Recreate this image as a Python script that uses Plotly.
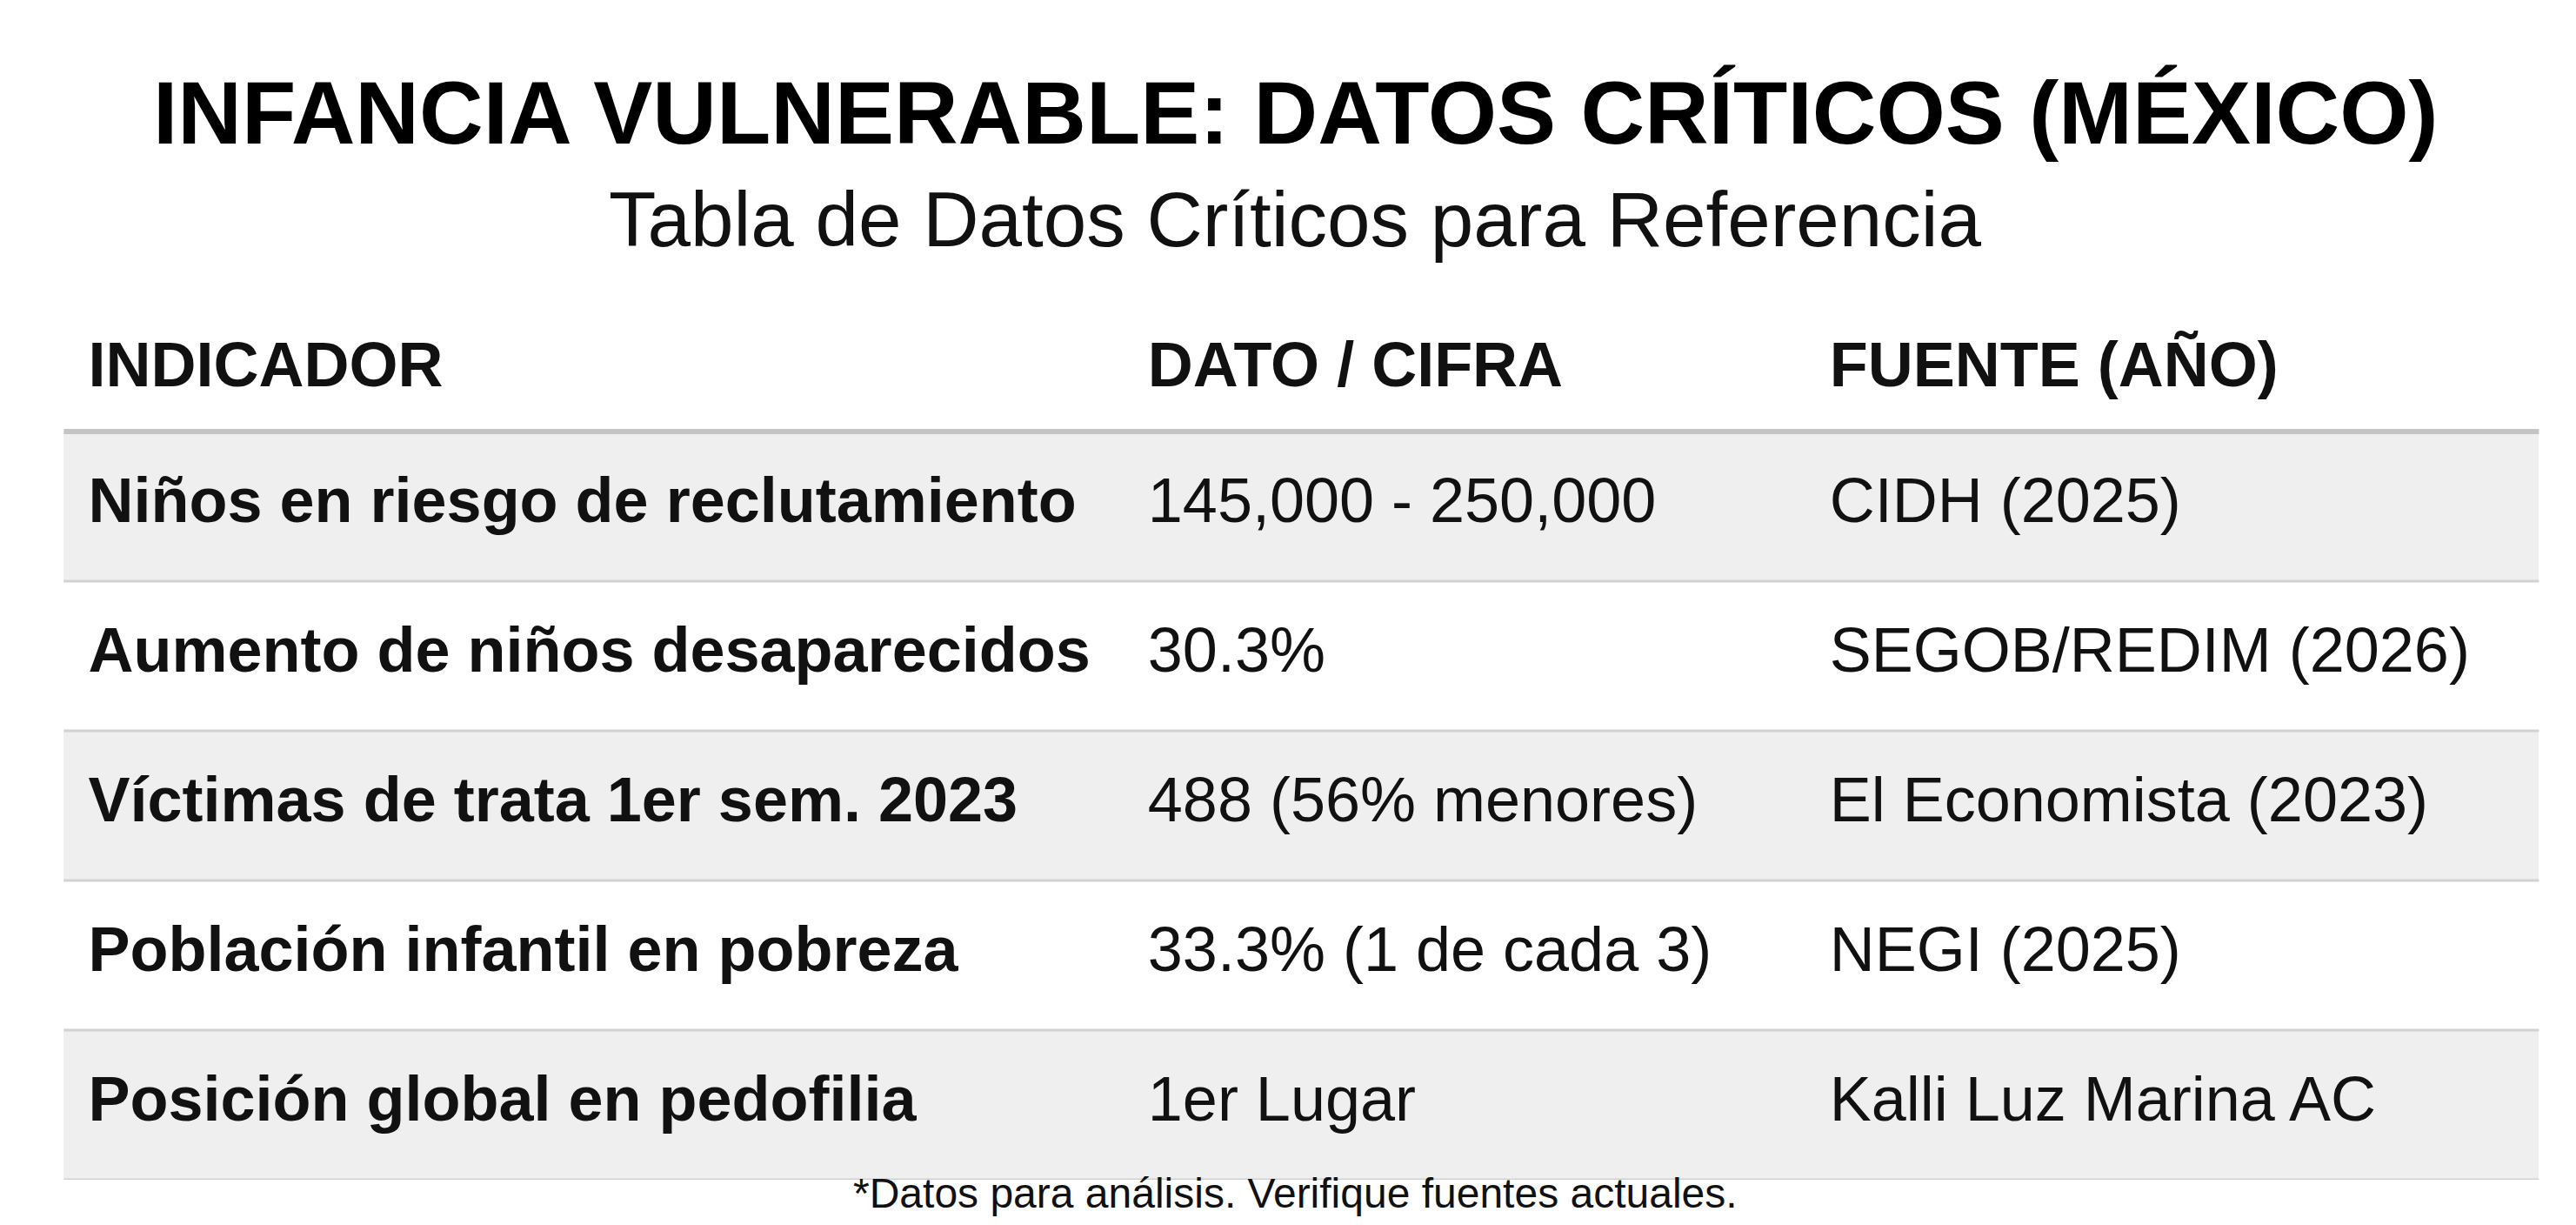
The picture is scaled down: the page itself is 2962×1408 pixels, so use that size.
import plotly.graph_objects as go

W, H = 2962, 1408
FONT = "Liberation Sans, Arial, sans-serif"

title = "INFANCIA VULNERABLE: DATOS CRÍTICOS (MÉXICO)"
subtitle = "Tabla de Datos Críticos para Referencia"
footnote = "*Datos para análisis. Verifique fuentes actuales."

headers = ["INDICADOR", "DATO / CIFRA", "FUENTE (AÑO)"]
indicadores = [
    "Niños en riesgo de reclutamiento",
    "Aumento de niños desaparecidos",
    "Víctimas de trata 1er sem. 2023",
    "Población infantil en pobreza",
    "Posición global en pedofilia",
]
datos = [
    "145,000 - 250,000",
    "30.3%",
    "488 (56% menores)",
    "33.3% (1 de cada 3)",
    "1er Lugar",
]
fuentes = [
    "CIDH (2025)",
    "SEGOB/REDIM (2026)",
    "El Economista (2023)",
    "NEGI (2025)",
    "Kalli Luz Marina AC",
]

# table geometry (pixels of the 1568-wide design)
col_widths = [645, 415, 447]
pad = 15
header_h = 140
row_h = 172
top_px = 348
x0, x1 = 0.022, 0.983
n = len(indicadores)
bottom_px = top_px + header_h + n * row_h
y_top = 1 - top_px / H
y_bot = 1 - bottom_px / H

total_w = sum(col_widths)
col_starts = [sum(col_widths[:i]) + pad for i in range(3)]
rows = list(range(n))
header_y = -0.5 - (header_h / row_h) / 2
row_fill = ["#efefef" if i % 2 == 0 else "#ffffff" for i in range(n)]

fig = go.Figure()

# row backgrounds
fig.add_trace(go.Bar(
    y=rows, x=[total_w] * n, base=0, width=1, orientation="h",
    marker=dict(color=row_fill, line=dict(width=0)),
    hoverinfo="skip", showlegend=False,
))

# header text
fig.add_trace(go.Scatter(
    x=col_starts, y=[header_y] * 3, mode="text",
    text=[f"<b>{h}</b>" for h in headers], textposition="middle right",
    textfont=dict(family=FONT, size=72, color="#111111"),
    hoverinfo="skip", showlegend=False,
))

# cell text
for i, (col, bold) in enumerate([(indicadores, True), (datos, False), (fuentes, False)]):
    fig.add_trace(go.Scatter(
        x=[col_starts[i]] * n, y=rows, mode="text",
        text=[f"<b>{v}</b>" if bold else v for v in col], textposition="middle right",
        textfont=dict(family=FONT, size=72, color="#111111"),
        hoverinfo="skip", showlegend=False,
    ))

# separator lines
shapes = []
for i, yv in enumerate([-0.5] + [r + 0.5 for r in rows]):
    shapes.append(dict(
        type="line", xref="x", yref="y", x0=0, x1=total_w, y0=yv, y1=yv,
        line=dict(color="#c4c4c4" if i == 0 else "#d2d2d2", width=6 if i == 0 else 3),
    ))

fig.update_layout(
    width=W, height=H,
    margin=dict(l=0, r=0, t=0, b=0),
    paper_bgcolor="white", plot_bgcolor="white",
    bargap=0,
    xaxis=dict(domain=[x0, x1], range=[0, total_w], visible=False, fixedrange=True),
    yaxis=dict(domain=[y_bot, y_top], range=[n - 0.5, -0.5 - header_h / row_h],
               visible=False, fixedrange=True),
    shapes=shapes,
    annotations=[
        dict(text=f"<b>{title}</b>", x=0.5, y=1 - 63 / H, xref="paper", yref="paper",
             showarrow=False, font=dict(family=FONT, size=102, color="#000000")),
        dict(text=subtitle, x=0.5, y=1 - 192 / H, xref="paper", yref="paper",
             showarrow=False, font=dict(family=FONT, size=89, color="#111111")),
        dict(text=footnote, x=0.5, y=1 - 1392 / H, xref="paper", yref="paper",
             showarrow=False, font=dict(family=FONT, size=48, color="#111111")),
    ],
)

fig.write_html("out.html")
